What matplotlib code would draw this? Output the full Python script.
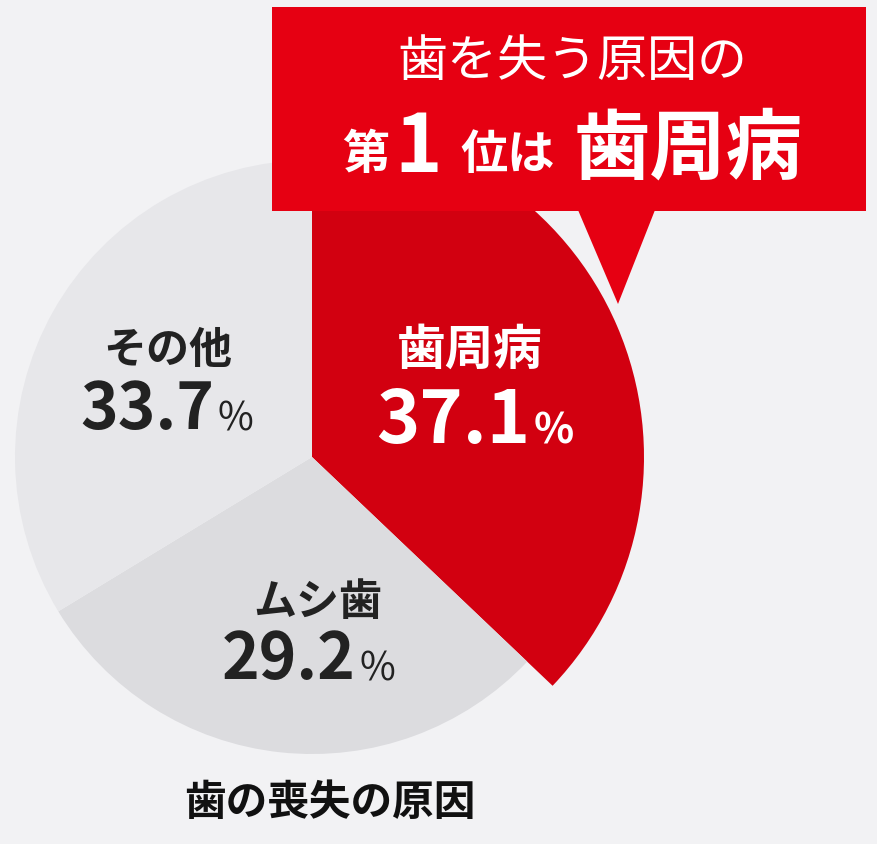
import matplotlib.pyplot as plt
from matplotlib.patches import Rectangle, Polygon

plt.rcParams['font.family'] = ['Noto Sans CJK JP', 'DejaVu Sans']

labels = ['歯周病', 'ムシ歯', 'その他']
values = [37.1, 29.2, 33.7]
colors = ['#d20010', '#dcdcdf', '#e7e7ea']

W, H = 878, 845
fig = plt.figure(figsize=(W / 100, H / 100), dpi=100, facecolor='#f2f2f4')
ax = fig.add_axes([0, 0, 1, 1])

def Y(y):  # image pixel row -> data y
    return H - y

cx, cy = 312, Y(458)
wedges, _ = ax.pie(values, colors=colors, startangle=90, counterclock=False,
                   radius=297, center=(cx, cy), frame=True)
wedges[0].set_radius(332)
ax.set_xlim(0, W)
ax.set_ylim(0, H)
ax.set_aspect('equal')
ax.axis('off')

# slice labels
ax.text(470, Y(350), labels[0], color='white', fontsize=35, fontweight='bold', ha='center', va='center')
ax.text(530, Y(422), f'{values[0]}', color='white', fontsize=53, fontweight='bold', ha='right', va='center')
ax.text(534, Y(432), '%', color='white', fontsize=30, fontweight='bold', ha='left', va='center')

ax.text(168, Y(350), labels[2], color='#222222', fontsize=31, fontweight='bold', ha='center', va='center')
ax.text(214, Y(410), f'{values[2]}', color='#222222', fontsize=46, fontweight='bold', ha='right', va='center')
ax.text(218, Y(420), '%', color='#222222', fontsize=28, ha='left', va='center')

ax.text(318, Y(602), labels[1], color='#222222', fontsize=31, fontweight='bold', ha='center', va='center')
ax.text(356, Y(660), f'{values[1]}', color='#222222', fontsize=46, fontweight='bold', ha='right', va='center')
ax.text(360, Y(670), '%', color='#222222', fontsize=28, ha='left', va='center')

ax.text(330, Y(803), '歯の喪失の原因', color='#111111', fontsize=30, fontweight='bold',
        ha='center', va='center')

# callout
ax.add_patch(Rectangle((272, Y(212)), 594, 204, color='#e60012', zorder=5, lw=0))
ax.add_patch(Polygon([(578, Y(211)), (655, Y(211)), (618, Y(305))], color='#e60012', zorder=5, lw=0))
ax.text(572, Y(62), '歯を失う原因の', color='white', fontsize=36, ha='center', va='center', zorder=6)
ax.text(366, Y(155), '第', color='white', fontsize=34, fontweight='bold', ha='center', va='center', zorder=6)
ax.text(418, Y(148), '1', color='white', fontsize=58, fontweight='bold', ha='center', va='center', zorder=6)
ax.text(508, Y(155), '位は', color='white', fontsize=34, fontweight='bold', ha='center', va='center', zorder=6)
ax.text(688, Y(150), '歯周病', color='white', fontsize=55, fontweight='bold', ha='center', va='center', zorder=6)

fig.savefig('out.png', dpi=100, facecolor=fig.get_facecolor())
